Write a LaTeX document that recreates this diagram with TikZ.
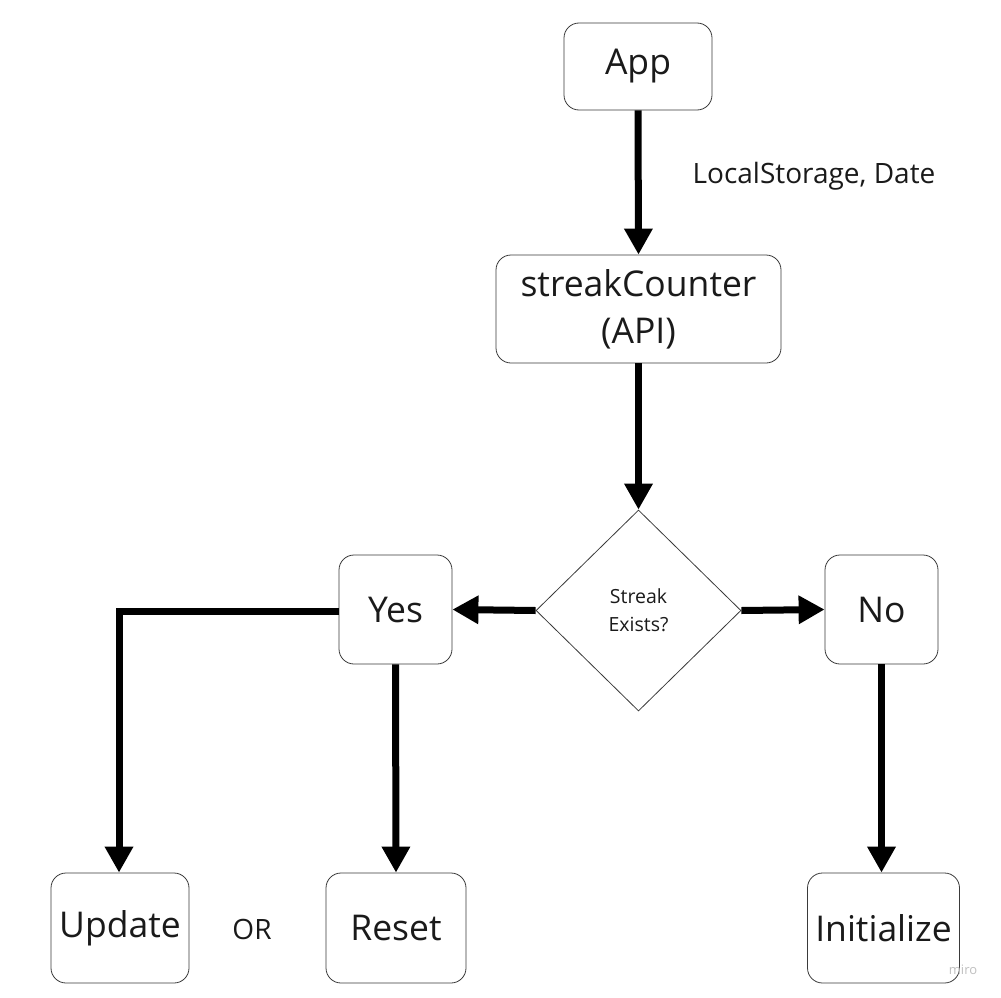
\documentclass[tikz,border=0pt]{standalone}
\usepackage{fontspec}
\setmainfont{Open Sans}
\usetikzlibrary{arrows.meta,shapes.geometric}
\definecolor{ink}{HTML}{1A1A1A}
\definecolor{edge}{HTML}{3A3A3A}
\tikzset{
  box/.style={draw=edge, line width=0.8pt, rounded corners=15pt, inner sep=0pt,
    align=center, text=ink, font=\fontsize{35.5}{47}\selectfont},
  decision/.style={draw=edge, line width=0.8pt, diamond, inner sep=0pt,
    minimum width=205pt, minimum height=201pt, align=center, text=ink,
    font=\fontsize{19.5}{28}\selectfont},
  flow/.style={line width=7pt, draw=black, -{Triangle[length=26pt,width=27pt]}},
  lbl/.style={text=ink, inner sep=0pt}
}
\begin{document}
\begin{tikzpicture}[x=1pt,y=-1pt]
\useasboundingbox (0,0) rectangle (1001,998);
\node[box, minimum width=148pt, minimum height=87pt] (app) at (638,66.5) {App};
\node[box, minimum width=285pt, minimum height=108pt] (api) at (638.5,309) {streakCounter\\(API)};
\node[decision] (dec) at (638.5,610.5) {Streak\\Exists?};
\node[box, minimum width=113pt, minimum height=109pt] (yes) at (395.5,609.5) {Yes};
\node[box, minimum width=113pt, minimum height=109pt] (no) at (881.5,609.5) {No};
\node[box, minimum width=138pt, minimum height=110pt] (upd) at (120,928) {Update};
\node[box, minimum width=140pt, minimum height=110pt] (rst) at (396,928) {Reset};
\node[box, minimum width=152pt, minimum height=110pt] (ini) at (883.5,928) {Initialize};
\node[lbl, font=\fontsize{28}{32}\selectfont] (ls) at (814,176) {LocalStorage, Date};
\node[lbl, font=\fontsize{28}{32}\selectfont] (or) at (252,929) {OR};
\node[lbl, text=black!25, font=\fontsize{13}{15}\selectfont] (miro) at (963,970) {miro};
\coordinate (corner) at (119,611);
\draw[flow] (app.south) -- (api.north);
\draw[flow] (api.south) -- (dec.north);
\draw[flow] (dec.west) -- (yes.east);
\draw[flow] (dec.east) -- (no.west);
\draw[flow] (yes.west |- corner) -- (corner) -- (corner |- upd.north);
\draw[flow] (yes.south) -- (rst.north);
\draw[flow] (no.south) -- (no.south |- ini.north);
\end{tikzpicture}
\end{document}
